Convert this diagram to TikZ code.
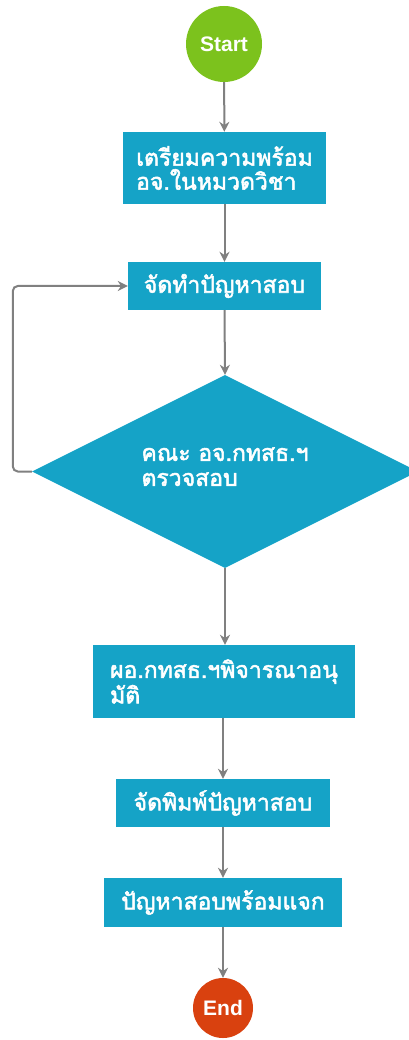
\documentclass[tikz,border=0pt]{standalone}
\usepackage{fontspec}
\setmainfont{Liberation Sans}
\newfontfamily\thaifont[Script=Thai,FakeBold=2.2]{Loma}
\usetikzlibrary{shapes.geometric,arrows.meta}
\definecolor{teal1}{HTML}{15A3C7}
\definecolor{green1}{HTML}{7CC21D}
\definecolor{red1}{HTML}{D9410F}
\definecolor{arrgray}{HTML}{808080}
\tikzset{
  proc/.style={rectangle, fill=teal1, text=white, font=\thaifont\fontsize{23}{24}\selectfont, align=left, inner sep=0pt},
  dec/.style={diamond, aspect=2, fill=teal1, text=white, font=\thaifont\fontsize{23}{25}\selectfont, align=left, inner sep=0pt},
  term/.style={circle, text=white, font=\bfseries\fontsize{21}{22}\selectfont, inner sep=0pt},
  arr/.style={draw=arrgray, line width=2pt, -{Stealth[length=10pt,width=10pt]}}
}
\begin{document}
\begin{tikzpicture}[x=1pt,y=-1pt]
\useasboundingbox (0,0) rectangle (409,1040);
\node[term, fill=green1, minimum size=76pt] (start) at (224,44) {Start};
\node[proc, minimum width=203pt, minimum height=72pt] (b1) at (224.5,168) {เตรียมความพร้อม\\อจ.ในหมวดวิชา};
\node[proc, minimum width=193pt, minimum height=48pt] (b2) at (224.5,286) {จัดทำปัญหาสอบ};
\node[dec, minimum width=386pt, minimum height=193pt] (d) at (225,471.5) {\raisebox{25pt}{\begin{tabular}{@{}l@{}}คณะ อจ.กทสธ.ฯ\\ตรวจสอบ\end{tabular}}};
\node[proc, minimum width=262pt, minimum height=73pt] (b3) at (224,681.5) {ผอ.กทสธ.ฯพิจารณาอนุ\\มัติ};
\node[proc, minimum width=214pt, minimum height=48pt] (b4) at (223,803) {จัดพิมพ์ปัญหาสอบ};
\node[proc, minimum width=238pt, minimum height=49pt] (b5) at (223,902.5) {ปัญหาสอบพร้อมแจก};
\node[term, fill=red1, minimum size=60pt] (end) at (223,1008) {End};
\draw[arr] (start) -- (b1);
\draw[arr] (b1) -- (b2);
\draw[arr] (b2.south) -- (d.north);
\draw[arr] (d.south) -- (d.south |- b3.north);
\draw[arr] (b3.south -| b4.north) -- (b4.north);
\draw[arr] (b4) -- (b5);
\draw[arr] (b5) -- (end);
\draw[arr, rounded corners=5pt] (d.west) -- ++(-19,0) |- (b2.west);
\end{tikzpicture}
\end{document}
